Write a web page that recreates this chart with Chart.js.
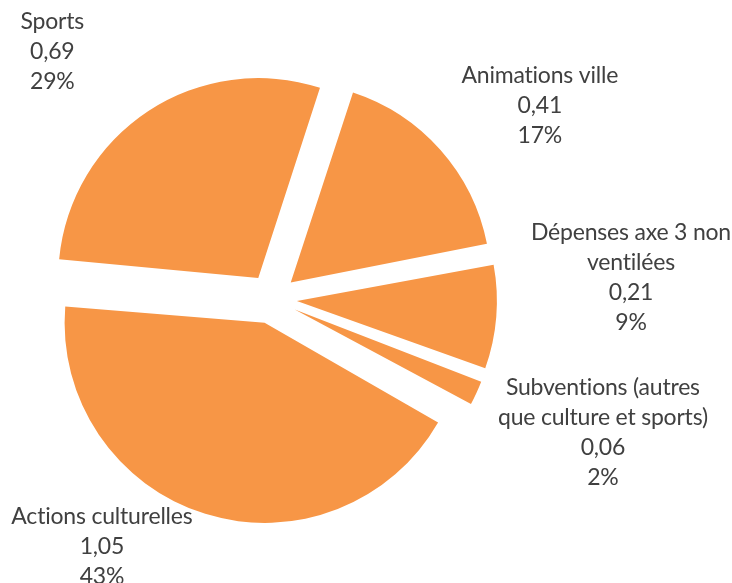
<!DOCTYPE html>
<html>
<head>
<meta charset="utf-8">
<script src="https://cdn.jsdelivr.net/npm/chart.js@4/dist/chart.umd.min.js"></script>
<style>
  html, body { margin: 0; padding: 0; background: #ffffff; }
  #wrap { width: 732px; height: 583px; }
</style>
</head>
<body>
<div id="wrap"><canvas id="c" width="732" height="583"></canvas></div>
<script>
// ---- data ----
const categories = [
  ["Animations ville"],
  ["Dépenses axe 3 non", "ventilées"],
  ["Subventions (autres", "que culture et sports)"],
  ["Actions culturelles"],
  ["Sports"]
];
const values = [0.41, 0.21, 0.06, 1.05, 0.69];

// ---- layout / style (not data) ----
const PIE_R = 200;
const EXPLODE = 100;               // Chart.js offset (translation = offset/4)
const labelDist = [1.651, 1.798, 1.785, 1.503, 1.654];   // in radii from pie centre
const labelTurn = [5.7, -7.95, -2.65, 17.2, -8.3];        // degrees from slice mid-angle
const FONT = '23px Lato, "Open Sans", sans-serif';
const LINE_H = 30;

const total = values.reduce((a, b) => a + b, 0);

const radiusFix = {
  id: 'radiusFix',
  afterDatasetUpdate(chart) {
    const meta = chart.getDatasetMeta(0);
    meta.data.forEach(arc => {
      const off = EXPLODE / 4;
      const fix = 1 - Math.sin(Math.min(Math.PI, arc.circumference || 0));
      arc.outerRadius = PIE_R - off * fix;
    });
  }
};

const labelPlugin = {
  id: 'sliceLabels',
  afterDatasetsDraw(chart) {
    const ctx = chart.ctx;
    const meta = chart.getDatasetMeta(0);
    ctx.save();
    ctx.font = FONT;
    if ('letterSpacing' in ctx) ctx.letterSpacing = '-0.2px';
    ctx.fillStyle = '#404040';
    ctx.textAlign = 'center';
    ctx.textBaseline = 'middle';
    meta.data.forEach((arc, i) => {
      const mid = (arc.startAngle + arc.endAngle) / 2 + labelTurn[i] * Math.PI / 180;
      const cx = arc.x + Math.cos(mid) * PIE_R * labelDist[i];
      const cy = arc.y + Math.sin(mid) * PIE_R * labelDist[i];
      const v = values[i];
      const lines = categories[i].concat([
        v.toFixed(2).replace('.', ','),
        Math.round(v / total * 100) + '%'
      ]);
      const top = cy - (lines.length - 1) * LINE_H / 2;
      lines.forEach((t, k) => ctx.fillText(t, cx, top + k * LINE_H));
    });
    ctx.restore();
  }
};

new Chart(document.getElementById('c'), {
  type: 'pie',
  data: {
    labels: categories.map(c => c.join(' ')),
    datasets: [{
      data: values,
      backgroundColor: '#F79646',
      borderWidth: 0,
      offset: EXPLODE,
      hoverOffset: 0
    }]
  },
  options: {
    responsive: false,
    animation: false,
    rotation: 18,
    radius: PIE_R,
    layout: { padding: { left: 0, right: 188, top: 15, bottom: 0 } },
    plugins: { legend: { display: false }, tooltip: { enabled: false } },
    events: []
  },
  plugins: [radiusFix, labelPlugin]
});
</script>
</body>
</html>
